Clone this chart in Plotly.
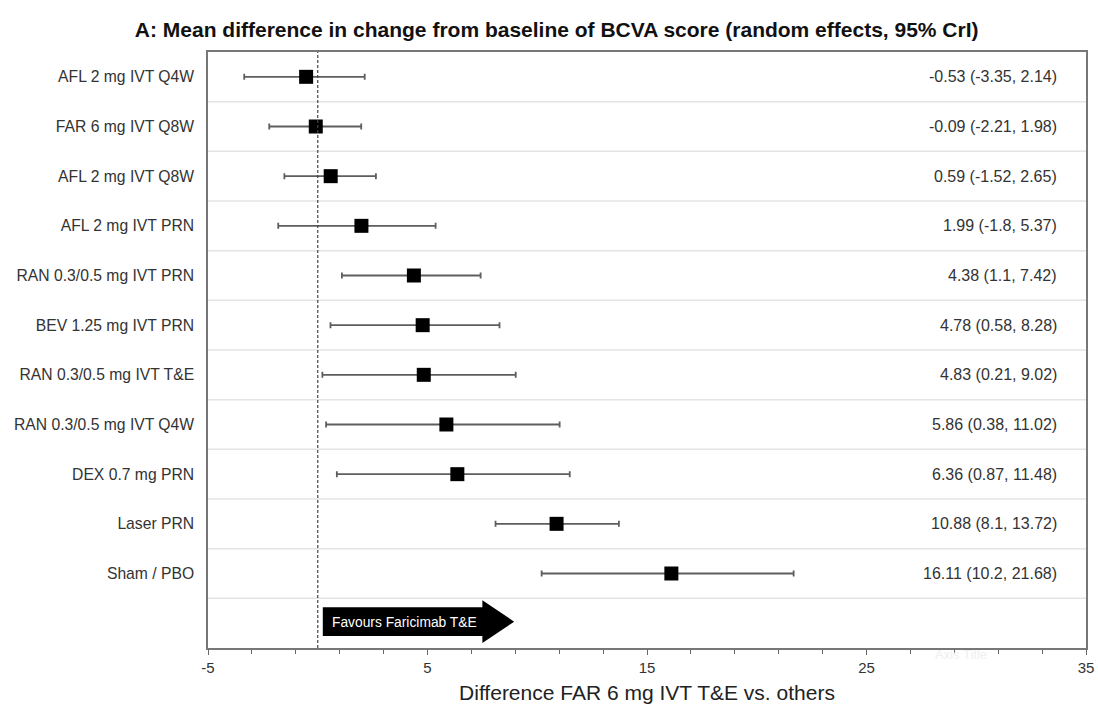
import plotly.graph_objects as go

treatments = ["AFL 2 mg IVT Q4W", "FAR 6 mg IVT Q8W", "AFL 2 mg IVT Q8W", "AFL 2 mg IVT PRN",
              "RAN 0.3/0.5 mg IVT PRN", "BEV 1.25 mg IVT PRN", "RAN 0.3/0.5 mg IVT T&E",
              "RAN 0.3/0.5 mg IVT Q4W", "DEX 0.7 mg PRN", "Laser PRN", "Sham / PBO"]
mean_diff = [-0.53, -0.09, 0.59, 1.99, 4.38, 4.78, 4.83, 5.86, 6.36, 10.88, 16.11]
lower = [-3.35, -2.21, -1.52, -1.8, 1.1, 0.58, 0.21, 0.38, 0.87, 8.1, 10.2]
upper = [2.14, 1.98, 2.65, 5.37, 7.42, 8.28, 9.02, 11.02, 11.48, 13.72, 21.68]
x_ticks = [-5, 5, 15, 25, 35]

FONT = "Arial, Liberation Sans, sans-serif"
rows = list(range(len(treatments)))
n_rows = len(treatments) + 1

fig = go.Figure()
fig.add_trace(go.Scatter(
    x=mean_diff, y=rows, mode="markers",
    marker=dict(symbol="square", size=14, color="black"),
    error_x=dict(type="data", symmetric=False,
                 array=[u - m for u, m in zip(upper, mean_diff)],
                 arrayminus=[m - l for m, l in zip(mean_diff, lower)],
                 color="#5e5e5e", thickness=1.8, width=3),
    showlegend=False, hoverinfo="skip"))

shapes = []
# row separators
for i in range(n_rows - 1):
    shapes.append(dict(type="line", xref="paper", yref="y", x0=0, x1=1, y0=i + 0.5, y1=i + 0.5,
                       line=dict(color="#e4e4e4", width=1.5), layer="below"))
# reference line at zero
shapes.append(dict(type="line", xref="x", yref="paper", x0=0, x1=0, y0=0, y1=1,
                   line=dict(color="#444444", width=1.2, dash="3px,2px")))
# arrow
ax0, ax1, ax2 = 0.23, 7.5, 8.95
yb0, yb1, yh0, yh1, yc = 10.68, 11.26, 10.54, 11.40, 10.97
path = (f"M {ax0},{yb0} L {ax1},{yb0} L {ax1},{yh0} L {ax2},{yc} L {ax1},{yh1} "
        f"L {ax1},{yb1} L {ax0},{yb1} Z")
shapes.append(dict(type="path", xref="x", yref="y", path=path, fillcolor="black",
                   line=dict(color="black", width=0)))

annotations = []
for i, (m, l, u) in enumerate(zip(mean_diff, lower, upper)):
    annotations.append(dict(xref="paper", yref="y", x=0.969, y=i, xanchor="right", yanchor="middle",
                            text=f"{m} ({l}, {u})", showarrow=False,
                            font=dict(family=FONT, size=16, color="#333333")))
annotations.append(dict(xref="x", yref="y", x=3.95, y=10.98, text="Favours Faricimab T&E",
                        showarrow=False, font=dict(family=FONT, size=13.8, color="white")))
annotations.append(dict(xref="paper", yref="paper", x=0.89, y=-0.027, text="Axis Title",
                        showarrow=False, font=dict(family=FONT, size=13, color="#f0f0f0")))

fig.update_layout(
    width=1098, height=704,
    margin=dict(l=208, r=12, t=52, b=56),
    paper_bgcolor="white", plot_bgcolor="white",
    title=dict(text="<b>A: Mean difference in change from baseline of BCVA score (random effects, 95% CrI)</b>",
               x=0.507, xanchor="center", y=1 - 30 / 704, yanchor="middle",
               font=dict(family=FONT, size=21, color="#111111")),
    xaxis=dict(range=[-5, 35], tickvals=x_ticks, ticktext=[str(v) for v in x_ticks],
               ticks="outside", ticklen=5, tickcolor="#666666", tickwidth=1.2, automargin=False,
               minor=dict(ticks="outside", dtick=2, tick0=-5, ticklen=4, tickcolor="#666666", showgrid=False),
               showgrid=False, zeroline=False, showline=True, linecolor="#777777", linewidth=1.5, mirror=True,
               tickfont=dict(family=FONT, size=15, color="#333333"),
               title=dict(text="Difference FAR 6 mg IVT T&E vs. others", standoff=11,
                          font=dict(family=FONT, size=21, color="#222222"))),
    yaxis=dict(range=[n_rows - 0.5, -0.5], tickvals=rows, ticktext=treatments, automargin=False,
               ticks="", showgrid=False, zeroline=False, showline=True, linecolor="#777777",
               linewidth=1.5, mirror=True, ticklabelstandoff=9,
               tickfont=dict(family=FONT, size=15.7, color="#333333")),
    shapes=shapes, annotations=annotations,
)

fig.write_html("out.html", config={"displayModeBar": False},
               post_script="document.body.style.margin='0';document.body.style.overflow='hidden';")
